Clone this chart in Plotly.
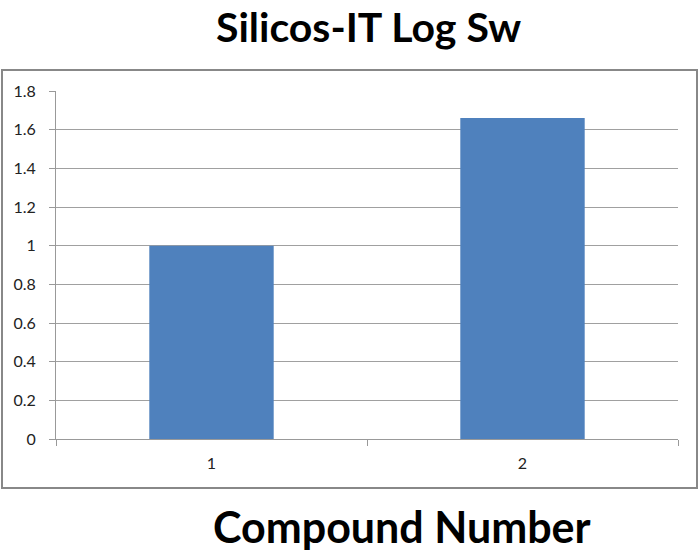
import plotly.graph_objects as go

categories = ["1", "2"]
values = [1.0, 1.66]
y_ticks = [0, 0.2, 0.4, 0.6, 0.8, 1, 1.2, 1.4, 1.6, 1.8]
y_tick_labels = ["0", "0.2", "0.4", "0.6", "0.8", "1", "1.2", "1.4", "1.6", "1.8"]

W, H = 700, 554
L, R, T, B = 56, 22, 91, 115
pw, ph = W - L - R, H - T - B

def px_x(x):
    return (x - L) / pw

def px_y(y):
    return (H - B - y) / ph

fig = go.Figure(go.Bar(x=categories, y=values, marker=dict(color="#4F81BD", line=dict(width=0)), width=0.4))

fig.update_layout(
    width=W, height=H,
    margin=dict(l=L, r=R, t=T, b=B, pad=0),
    paper_bgcolor="white", plot_bgcolor="white",
    showlegend=False,
    font=dict(family="Lato, Open Sans, sans-serif", size=15, color="#222"),
    bargap=0.6,
)
fig.update_xaxes(
    type="category", range=[-0.5, 1.5],
    showline=True, linecolor="#999", linewidth=1,
    ticks="outside", tickson="boundaries", ticklen=6, tickcolor="#999",
    showgrid=False, ticklabelstandoff=10,
    tickfont=dict(size=16, color="#222"),
)
fig.update_yaxes(
    range=[0, 1.8], tickvals=y_ticks, ticktext=y_tick_labels,
    showline=True, linecolor="#999", linewidth=1,
    ticks="outside", ticklen=6, tickcolor="#999",
    showgrid=True, gridcolor="#a0a0a0", gridwidth=1,
    zeroline=False, ticklabelstandoff=10,
    tickfont=dict(size=16, color="#222"),
)

fig.add_shape(type="rect", xref="paper", yref="paper",
              x0=px_x(2), x1=px_x(697), y0=px_y(488), y1=px_y(70),
              line=dict(color="#888", width=2), fillcolor="rgba(0,0,0,0)", layer="below")

fig.add_annotation(text="<b>Silicos-IT Log Sw</b>", xref="paper", yref="paper",
                   x=px_x(368), y=px_y(0), xanchor="center", yanchor="top",
                   showarrow=False, font=dict(family="Lato, Open Sans, sans-serif", size=41, color="black"))
fig.add_annotation(text="<b>Compound Number</b>", xref="paper", yref="paper",
                   x=px_x(402), y=px_y(554), xanchor="center", yanchor="bottom",
                   showarrow=False, font=dict(family="Lato, Open Sans, sans-serif", size=43, color="black"))

fig.write_html("out.html")
